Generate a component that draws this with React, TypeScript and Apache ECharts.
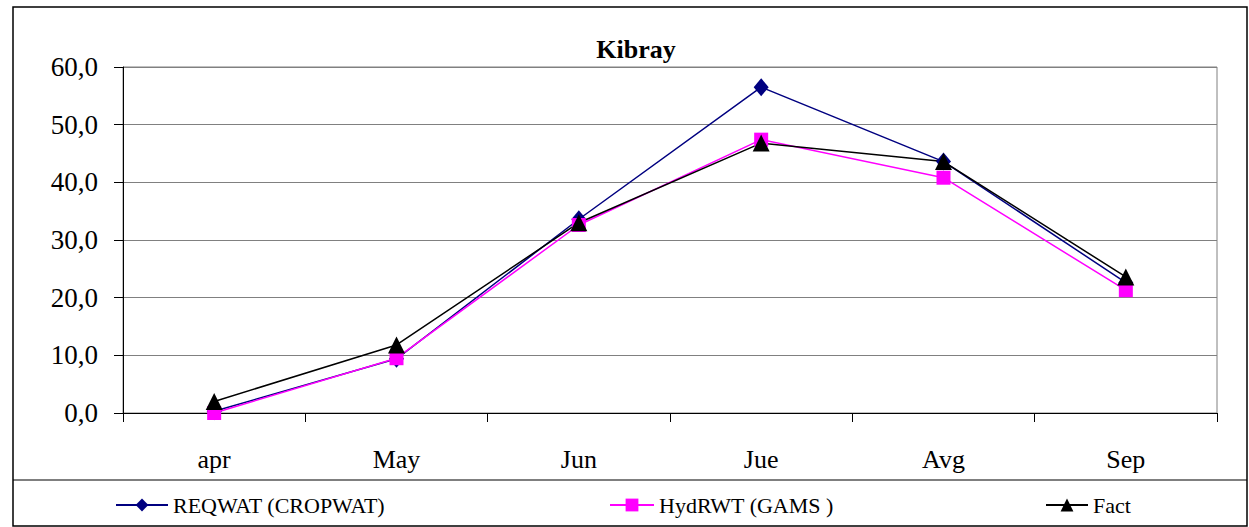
import React, { useEffect, useRef } from "react";
import * as echarts from "echarts";

const categories = ["apr", "May", "Jun", "Jue", "Avg", "Sep"];
const reqwat = [0.3, 9.4, 33.6, 56.5, 43.6, 22.6];
const hydrwt = [0.0, 9.5, 32.6, 47.4, 40.8, 21.3];
const fact = [2.0, 11.8, 33.0, 46.8, 43.6, 23.6];
const yTicks = [0, 10, 20, 30, 40, 50, 60];

const FONT = "Times New Roman, Liberation Serif, Tinos, DejaVu Serif, serif";

export default function App() {
  const ref = useRef<HTMLDivElement>(null);
  useEffect(() => {
    if (!ref.current) return;
    const chart = echarts.init(ref.current, undefined, { renderer: "svg" });
    const legendText = { fontFamily: FONT, fontSize: 22, color: "#000" };
    chart.setOption({
      animation: false,
      backgroundColor: "#fff",
      title: {
        text: "Kibray",
        left: 631,
        top: 31,
        textAlign: "center",
        textStyle: { fontFamily: FONT, fontSize: 26, fontWeight: "bold", color: "#000" },
      },
      grid: {
        left: 123,
        top: 67,
        width: 1094,
        height: 346,
        show: true,
        borderColor: "#808080",
        borderWidth: 1,
        containLabel: false,
      },
      legend: [
        {
          data: ["REQWAT (CROPWAT)"],
          left: 110,
          top: 489,
          itemWidth: 52,
          itemHeight: 16,
          itemGap: 6,
          textStyle: legendText,
        },
        {
          data: ["HydRWT (GAMS )"],
          left: 604,
          top: 489,
          itemWidth: 44,
          itemHeight: 16,
          textStyle: legendText,
        },
        {
          data: ["Fact"],
          left: 1040,
          top: 489,
          itemWidth: 42,
          itemHeight: 16,
          textStyle: legendText,
        },
      ],
      xAxis: {
        type: "category",
        data: categories,
        boundaryGap: true,
        axisLine: { lineStyle: { color: "#000", width: 1 } },
        axisTick: { show: true, length: 9, interval: 0, lineStyle: { color: "#000" } },
        axisLabel: { margin: 33, fontFamily: FONT, fontSize: 26, color: "#000", interval: 0 },
        splitLine: { show: false },
      },
      yAxis: {
        type: "value",
        min: yTicks[0],
        max: yTicks[yTicks.length - 1],
        interval: 10,
        axisLine: { show: true, lineStyle: { color: "#000", width: 1 } },
        axisTick: { show: true, length: 9, lineStyle: { color: "#000" } },
        axisLabel: {
          margin: 25,
          fontFamily: FONT,
          fontSize: 27,
          color: "#000",
          formatter: (v: number) => v.toFixed(1).replace(".", ","),
        },
        splitLine: { show: true, lineStyle: { color: "#808080", width: 1 } },
      },
      series: [
        {
          name: "REQWAT (CROPWAT)",
          type: "line",
          data: reqwat,
          symbol: "diamond",
          symbolSize: [15, 18],
          lineStyle: { color: "#000080", width: 1.5 },
          itemStyle: { color: "#000080" },
        },
        {
          name: "HydRWT (GAMS )",
          type: "line",
          data: hydrwt,
          symbol: "rect",
          symbolSize: 14,
          lineStyle: { color: "#FF00FF", width: 1.5 },
          itemStyle: { color: "#FF00FF" },
        },
        {
          name: "Fact",
          type: "line",
          data: fact,
          symbol: "triangle",
          symbolSize: [17, 17],
          lineStyle: { color: "#000000", width: 1.5 },
          itemStyle: { color: "#000000" },
        },
      ],
      graphic: [
        {
          type: "rect",
          shape: { x: 13, y: 7, width: 1234, height: 519 },
          style: { fill: "none", stroke: "#000", lineWidth: 1.5 },
          silent: true,
          z: -1,
        },
        {
          type: "line",
          shape: { x1: 13, y1: 480, x2: 1247, y2: 480 },
          style: { stroke: "#000", lineWidth: 1.2 },
          silent: true,
        },
      ],
    });
    return () => chart.dispose();
  }, []);
  return (
    <div
      ref={ref}
      style={{ position: "fixed", left: 0, top: 0, width: 1249, height: 527 }}
    />
  );
}
